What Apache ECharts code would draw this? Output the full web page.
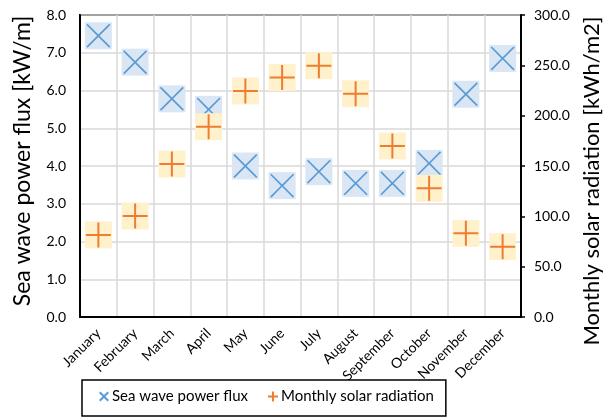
<!DOCTYPE html>
<html><head><meta charset="utf-8">
<script src="https://cdn.jsdelivr.net/npm/echarts@6/dist/echarts.min.js"></script>
<style>html,body{margin:0;padding:0;background:#fff}#c{width:611px;height:418px}</style>
</head><body><div id="c"></div>
<script>
const months = ['January','February','March','April','May','June','July','August','September','October','November','December'];
const waveFlux = [7.45, 6.75, 5.78, 5.5, 4.0, 3.48, 3.85, 3.54, 3.54, 4.07, 5.9, 6.85];
const solarRad = [81.5, 100.3, 152, 189, 224.5, 238, 249.6, 221.8, 169.9, 127.8, 83.1, 69.8];
const leftTicks = {min: 0, max: 8, interval: 1};
const rightTicks = {min: 0, max: 300, interval: 50};

const X_PATH = 'path://M0,5 L5,0 L50,45 L95,0 L100,5 L55,50 L100,95 L95,100 L50,55 L5,100 L0,95 L45,50 Z';
const PLUS_PATH = 'path://M46,0 L54,0 L54,46 L100,46 L100,54 L54,54 L54,100 L46,100 L46,54 L0,54 L0,46 L46,46 Z';
const X_ICON = 'path://M0,14 L14,0 L50,36 L86,0 L100,14 L64,50 L100,86 L86,100 L50,64 L14,100 L0,86 L36,50 Z';
const PLUS_ICON = 'path://M40,0 L60,0 L60,40 L100,40 L100,60 L60,60 L60,100 L40,100 L40,60 L0,60 L0,40 L40,40 Z';
const FONT = 'Lato';

const chart = echarts.init(document.getElementById('c'), null, {renderer: 'canvas'});
chart.setOption({
  animation: false,
  textStyle: {fontFamily: FONT},
  grid: {left: 80, right: 74, top: 15, bottom: 101, show: true, borderColor: '#000', borderWidth: 2, containLabel: false},
  legend: {
    data: [
      {name: 'Sea wave power flux', icon: X_ICON},
      {name: 'Monthly solar radiation', icon: PLUS_ICON}
    ],
    left: 82, top: 380, itemWidth: 10, itemHeight: 11, itemGap: 20,
    padding: [9, 12, 12, 17],
    borderColor: '#000', borderWidth: 1.5,
    textStyle: {fontFamily: FONT, fontSize: 15, color: '#000', padding: [0, 0, 0, -2]}
  },
  xAxis: {
    type: 'category', data: months, boundaryGap: true,
    axisLine: {show: true, lineStyle: {color: '#000', width: 2}},
    axisTick: {show: false},
    splitLine: {show: true, lineStyle: {color: '#d9d9d9', width: 1.5}},
    axisLabel: {rotate: 45, interval: 0, fontSize: 14, color: '#000', fontFamily: FONT, margin: 14}
  },
  yAxis: [
    {
      type: 'value', min: leftTicks.min, max: leftTicks.max, interval: leftTicks.interval,
      name: 'Sea wave power flux [kW/m]', nameLocation: 'middle', nameGap: 46,
      nameTextStyle: {fontSize: 23, color: '#000', fontFamily: FONT, padding: [0, 0, 0, 10]},
      axisLine: {show: true, lineStyle: {color: '#000', width: 2}},
      axisTick: {show: false},
      splitLine: {show: true, lineStyle: {color: '#d9d9d9', width: 1.5}},
      axisLabel: {formatter: v => v.toFixed(1), fontSize: 14, color: '#000', fontFamily: FONT, margin: 14}
    },
    {
      type: 'value', position: 'right', min: rightTicks.min, max: rightTicks.max, interval: rightTicks.interval,
      name: 'Monthly solar radiation [kWh/m2]', nameLocation: 'middle', nameGap: 60, nameRotate: 90,
      nameTextStyle: {fontSize: 22, color: '#000', fontFamily: FONT, padding: [0, 30, 0, 0]},
      axisLine: {show: true, lineStyle: {color: '#000', width: 2}},
      axisTick: {show: true, length: 4, lineStyle: {color: '#000', width: 1.5}},
      splitLine: {show: false},
      axisLabel: {formatter: v => v.toFixed(1), fontSize: 14, color: '#000', fontFamily: FONT, margin: 13}
    }
  ],
  series: [
    {name: 'waveBg', type: 'scatter', yAxisIndex: 0, data: waveFlux, symbol: 'rect', symbolSize: 27,
     itemStyle: {color: '#dae6f4', opacity: 1}, z: 2, silent: true},
    {name: 'Sea wave power flux', type: 'scatter', yAxisIndex: 0, data: waveFlux, symbol: X_PATH, symbolSize: 24,
     itemStyle: {color: '#5b9bd5', opacity: 1}, z: 3},
    {name: 'solarBg', type: 'scatter', yAxisIndex: 1, data: solarRad, symbol: 'rect', symbolSize: 27,
     itemStyle: {color: '#fff1cc', opacity: 1}, z: 4, silent: true},
    {name: 'Monthly solar radiation', type: 'scatter', yAxisIndex: 1, data: solarRad, symbol: PLUS_PATH, symbolSize: 25,
     itemStyle: {color: '#ed7d31', opacity: 1}, z: 5}
  ]
});
</script></body></html>
